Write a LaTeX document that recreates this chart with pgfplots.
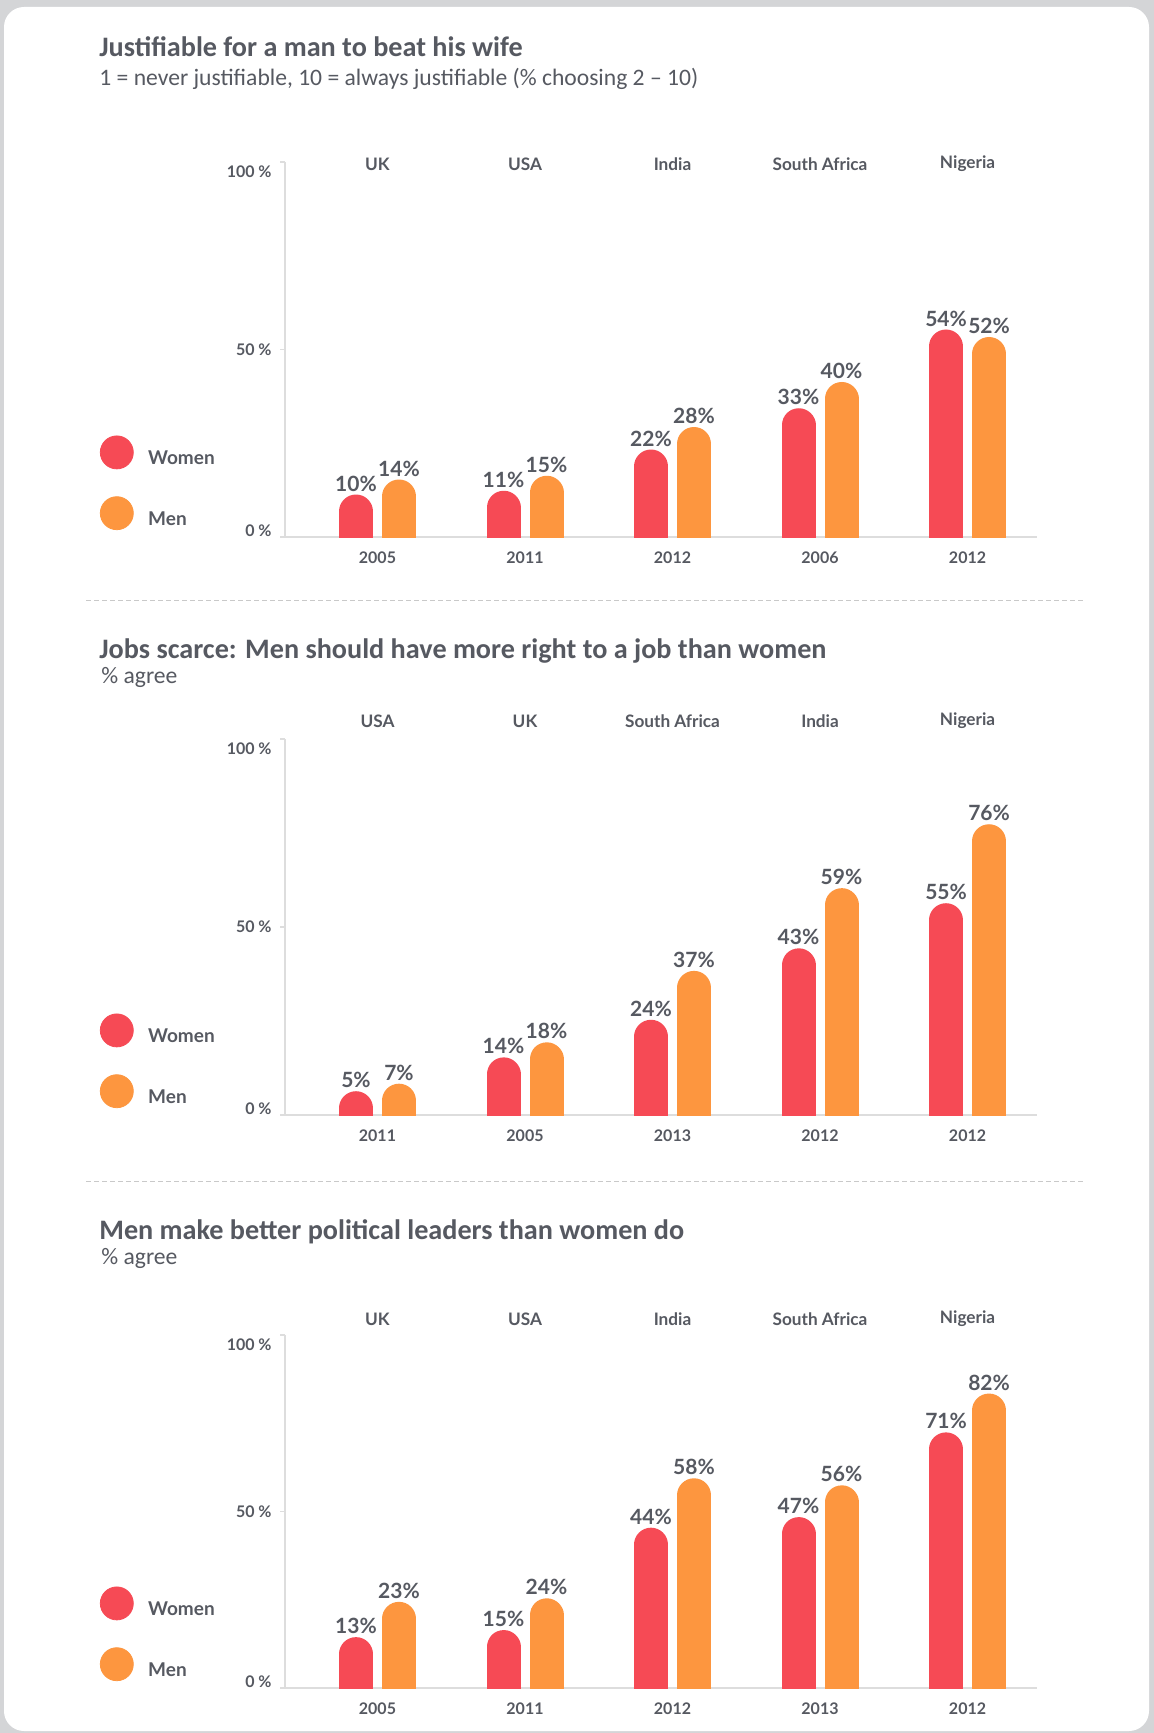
\documentclass[border=0pt]{standalone}
\usepackage{fontspec}
\setmainfont{Lato}
\newfontfamily\calib{Carlito}
\usepackage{pgfplots}
\usepackage{pgfplotstable}
\pgfplotsset{compat=1.18}

\definecolor{women}{HTML}{F64A55}
\definecolor{men}{HTML}{FD963F}
\definecolor{txt}{HTML}{565961}
\definecolor{axgrey}{HTML}{DDDDDD}
\definecolor{framegrey}{HTML}{D4D5D7}
\definecolor{sepgrey}{HTML}{C9C9C9}

% values per panel: women / men
\pgfplotstableread{
x women men
0 10 14
1 11 15
2 22 28
3 33 40
4 54 52
}\beat
\pgfplotstableread{
x women men
0 5 7
1 14 18
2 24 37
3 43 59
4 55 76
}\jobs
\pgfplotstableread{
x women men
0 13 23
1 15 24
2 44 58
3 47 56
4 71 82
}\leaders

\tikzset{country/.style={font=\bfseries\fontsize{8.6}{9}\selectfont, text=txt}}

\pgfplotsset{
  panel/.style={
    scale only axis, width=376pt, anchor=south west,
    xmin=-0.627, xmax=4.471, ymin=0, ymax=100,
    axis x line*=bottom, axis y line*=left,
    axis line style={axgrey, line width=0.9pt},
    xtick={0,...,4}, ytick={0,50,100},
    yticklabels={\raisebox{3pt}[\height][\depth]{0 \%},50 \%,\raisebox{-5pt}[\height][\depth]{100 \%}},
    x tick style={draw=none},
    y tick style={axgrey, line width=0.9pt},
    major tick length=2.5pt, tick align=outside,
    ticklabel style={font=\bfseries\fontsize{8}{9}\selectfont, text=txt},
    yticklabel style={inner sep=0pt, xshift=-4pt},
    xticklabel style={yshift=-1.2pt},
    /pgf/number format/assume math mode=true,
    legend style={draw=none, fill=none, at={(0,0)}, anchor=south west,
      xshift=-92.75pt, yshift=3.25pt, inner sep=0pt, row sep=13.5pt,
      column sep=7.25pt, font=\bfseries\fontsize{9.5}{11}\selectfont,
      text=txt, nodes={inner sep=0pt}},
    legend cell align=left,
  },
  bars/.style={ycomb, mark=none, line width=17pt, line cap=round, yshift=-6pt,
    nodes near coords={\pgfmathprintnumber{\pgfplotspointmeta}\%},
    every node near coord/.append style={anchor=south, inner sep=0pt,
      yshift=1.6pt, text=txt, font=\bfseries\fontsize{10.5}{12}\selectfont},
    forget plot},
  % country names above the groups, drawn after the axis, outside its clip
  countries1/.style={extra description/.code={
    \node[country, yshift=-1pt] at (axis cs:0,100) {UK};
    \node[country, yshift=-1pt] at (axis cs:1,100) {USA};
    \node[country, yshift=-1pt] at (axis cs:2,100) {India};
    \node[country, yshift=-1pt] at (axis cs:3,100) {South Africa};
    \node[country, yshift=-1pt] at (axis cs:4,100) {Nigeria};}},
  countries2/.style={extra description/.code={
    \node[country, yshift=9pt] at (axis cs:0,100) {USA};
    \node[country, yshift=9pt] at (axis cs:1,100) {UK};
    \node[country, yshift=9pt] at (axis cs:2,100) {South Africa};
    \node[country, yshift=9pt] at (axis cs:3,100) {India};
    \node[country, yshift=9pt] at (axis cs:4,100) {Nigeria};}},
  countries3/.style={extra description/.code={
    \node[country, yshift=8pt] at (axis cs:0,100) {UK};
    \node[country, yshift=8pt] at (axis cs:1,100) {USA};
    \node[country, yshift=8pt] at (axis cs:2,100) {India};
    \node[country, yshift=8pt] at (axis cs:3,100) {South Africa};
    \node[country, yshift=8pt] at (axis cs:4,100) {Nigeria};}},
}

\newcommand{\legendentries}{%
  \addlegendimage{legend image code/.code={\fill[women] (8.25pt,0.35em) circle (8.25pt);}}
  \addlegendentry{Women}
  \addlegendimage{legend image code/.code={\fill[men] (8.25pt,0.35em) circle (8.25pt);}}
  \addlegendentry{Men}}

\begin{document}
\begin{tikzpicture}
\begin{scope}[x=0.5pt, y=-0.5pt]
\fill[framegrey] (0,0) rectangle (1154,1733);
\fill[white, rounded corners=10pt] (4,7) rectangle (1149,1731);
\draw[sepgrey, line width=0.5pt, dash pattern=on 2.5pt off 1.5pt] (86,600) -- (1083,600);
\draw[sepgrey, line width=0.5pt, dash pattern=on 2.5pt off 1.5pt] (86,1181) -- (1083,1181);
\tikzset{ttl/.style={anchor=base west, inner sep=0pt, text=txt, font=\calib\bfseries\fontsize{14.1}{16}\selectfont},
         sub/.style={anchor=base west, inner sep=0pt, text=txt, font=\calib\fontsize{11.8}{14}\selectfont}}
\node[ttl] at (99,57) {Justifiable for a man to beat his wife};
\node[sub] at (99,86) {1 = never justifiable, 10 = always justifiable (\% choosing 2 – 10)};
\node[ttl] at (99,658) {Jobs scarce: Men should have more right to a job than women};
\node[sub] at (101,683) {\% agree};
\node[ttl] at (99,1239) {Men make better political leaders than women do};
\node[sub] at (101,1264) {\% agree};
\end{scope}

% panel 1
\begin{axis}[panel, countries1, at={(142.5pt,-268.5pt)}, height=187.5pt,
  xticklabels={2005,2011,2012,2006,2012}]
\addplot[bars, women, xshift=-10.75pt] table[x=x, y=women] {\beat};
\addplot[bars, men, xshift=10.75pt] table[x=x, y=men] {\beat};
\legendentries
\end{axis}

% panel 2
\begin{axis}[panel, countries2, at={(142.5pt,-557.5pt)}, height=188pt,
  xticklabels={2011,2005,2013,2012,2012}]
\addplot[bars, women, xshift=-10.75pt] table[x=x, y=women] {\jobs};
\addplot[bars, men, xshift=10.75pt] table[x=x, y=men] {\jobs};
\legendentries
\end{axis}

% panel 3
\begin{axis}[panel, countries3, at={(142.5pt,-844pt)}, height=176.5pt,
  xticklabels={2005,2011,2012,2013,2012}]
\addplot[bars, women, xshift=-10.75pt] table[x=x, y=women] {\leaders};
\addplot[bars, men, xshift=10.75pt] table[x=x, y=men] {\leaders};
\legendentries
\end{axis}
\end{tikzpicture}
\end{document}
